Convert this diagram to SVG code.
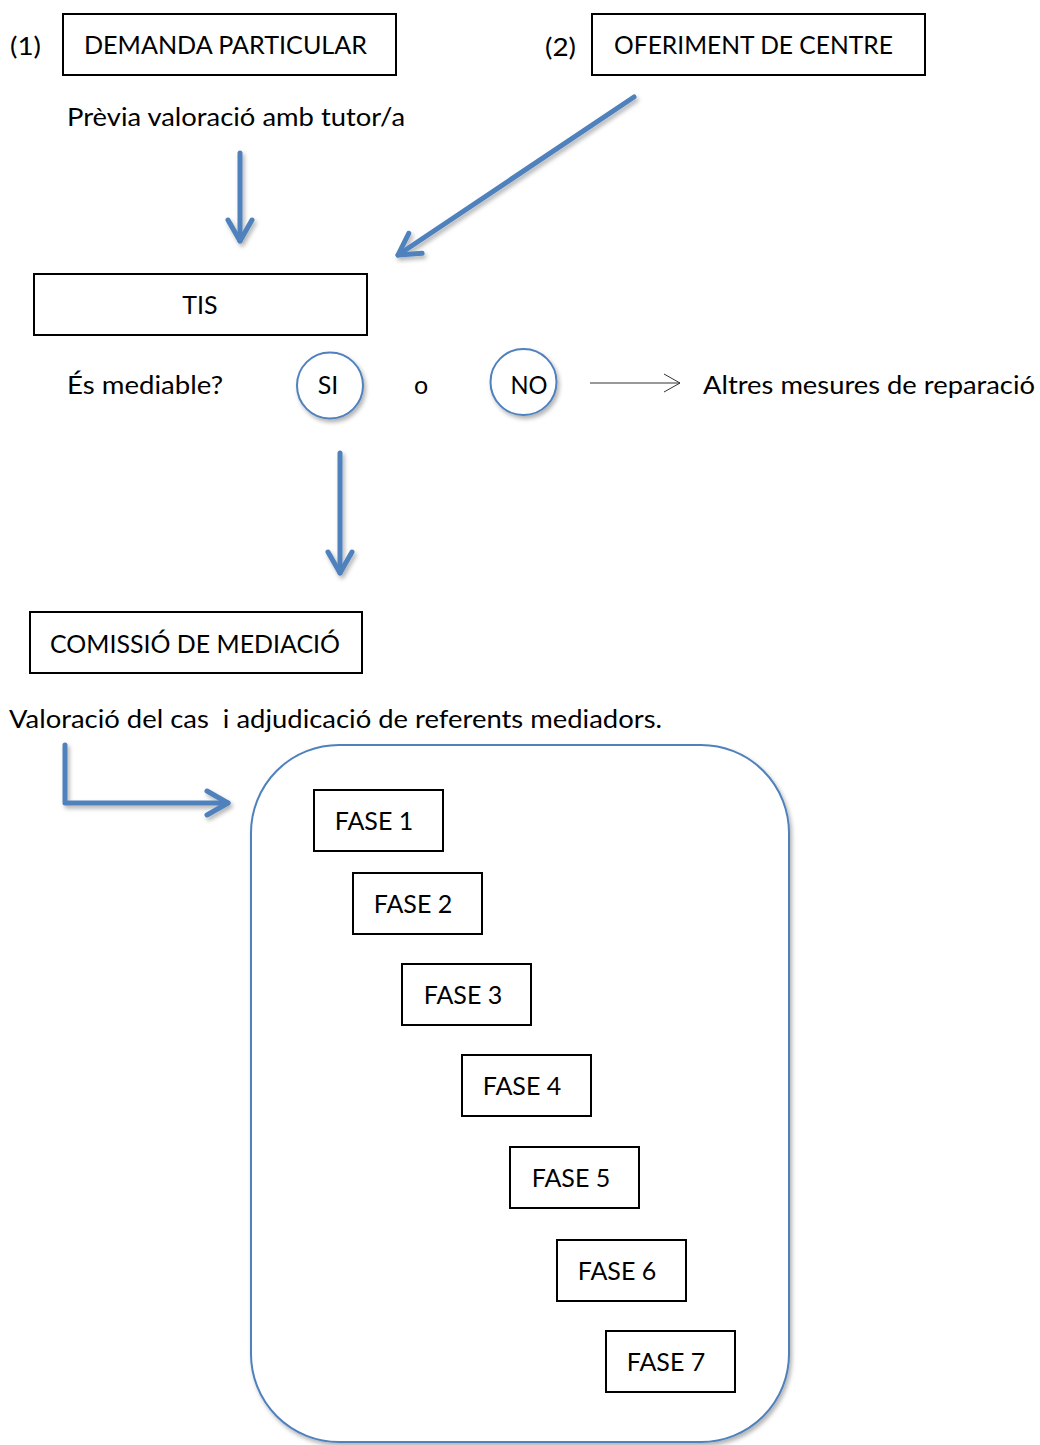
<svg xmlns="http://www.w3.org/2000/svg" width="1040" height="1445" viewBox="0 0 1040 1445">
<style>
text{font-family:Lato,"Open Sans","Noto Sans",sans-serif;font-size:25px;fill:#000}
.box{fill:#fff;stroke:#000;stroke-width:2}
.c{text-anchor:middle}
.circ{fill:#fff;stroke:#4F81BD;stroke-width:2}
.arr{fill:none;stroke:#4F81BD;stroke-width:5;stroke-linecap:round;stroke-linejoin:round}
.thin{fill:none;stroke:#333;stroke-width:1}
</style>
<defs>
<filter id="sh" x="-20%" y="-20%" width="140%" height="140%">
<feDropShadow dx="2" dy="3" stdDeviation="2" flood-color="#000" flood-opacity="0.3"/>
</filter>
<marker id="head" markerUnits="userSpaceOnUse" markerWidth="40" markerHeight="40" refX="21" refY="15" orient="auto" overflow="visible">
<path d="M0,3 L21,15 L0,27" fill="none" stroke="#4F81BD" stroke-width="5" stroke-linecap="round" stroke-linejoin="round"/>
</marker>
<marker id="thinhead" markerUnits="userSpaceOnUse" markerWidth="20" markerHeight="20" refX="16" refY="10" orient="auto" overflow="visible">
<path d="M0,1 L16,10 L0,19" fill="none" stroke="#333" stroke-width="1"/>
</marker>
</defs>
<rect width="1040" height="1445" fill="#fff"/>

<g id="container">
<rect x="251" y="745" width="538" height="697" rx="88" ry="88" fill="#fff" stroke="#4F81BD" stroke-width="2" filter="url(#sh)"/>
</g>

<g id="label1"><text x="10" y="55" textLength="31" lengthAdjust="spacingAndGlyphs">(1)</text></g>
<g id="demanda">
<rect class="box" x="63" y="14" width="333" height="61"/>
<text x="84" y="54" textLength="283" lengthAdjust="spacingAndGlyphs">DEMANDA PARTICULAR</text>
</g>
<g id="label2"><text x="545" y="56" textLength="31" lengthAdjust="spacingAndGlyphs">(2)</text></g>
<g id="oferiment">
<rect class="box" x="592" y="14" width="333" height="61"/>
<text x="614" y="54" textLength="279" lengthAdjust="spacingAndGlyphs">OFERIMENT DE CENTRE</text>
</g>
<g id="previa"><text x="67" y="126" textLength="338" lengthAdjust="spacingAndGlyphs">Prèvia valoració amb tutor/a</text></g>

<g id="tis">
<rect class="box" x="34" y="274" width="333" height="61"/>
<text x="200" y="314" class="c">TIS</text>
</g>
<g id="esmediable"><text x="67" y="394" textLength="156" lengthAdjust="spacingAndGlyphs">És mediable?</text></g>
<g id="si">
<circle class="circ" cx="330" cy="385.5" r="33" filter="url(#sh)"/>
<text x="328" y="394" class="c">SI</text>
</g>
<g id="o"><text x="421" y="394" class="c">o</text></g>
<g id="no">
<circle class="circ" cx="523.5" cy="382" r="33" filter="url(#sh)"/>
<text x="529" y="394" class="c" textLength="37" lengthAdjust="spacingAndGlyphs">NO</text>
</g>
<g id="altres"><text x="703" y="394" textLength="332" lengthAdjust="spacingAndGlyphs">Altres mesures de reparació</text></g>

<g id="comissio">
<rect class="box" x="30" y="612" width="332" height="61"/>
<text x="50" y="653" textLength="290" lengthAdjust="spacingAndGlyphs">COMISSIÓ DE MEDIACIÓ</text>
</g>
<g id="valoracio"><text x="9" y="728" textLength="653" lengthAdjust="spacingAndGlyphs" xml:space="preserve">Valoració del cas  i adjudicació de referents mediadors.</text></g>

<g id="fase1"><rect class="box" x="314" y="790" width="129" height="61"/><text x="374" y="830" class="c">FASE 1</text></g>
<g id="fase2"><rect class="box" x="353" y="873" width="129" height="61"/><text x="413" y="913" class="c">FASE 2</text></g>
<g id="fase3"><rect class="box" x="402" y="964" width="129" height="61"/><text x="463" y="1004" class="c">FASE 3</text></g>
<g id="fase4"><rect class="box" x="462" y="1055" width="129" height="61"/><text x="522" y="1095" class="c">FASE 4</text></g>
<g id="fase5"><rect class="box" x="510" y="1147" width="129" height="61"/><text x="571" y="1187" class="c">FASE 5</text></g>
<g id="fase6"><rect class="box" x="557" y="1240" width="129" height="61"/><text x="617" y="1280" class="c">FASE 6</text></g>
<g id="fase7"><rect class="box" x="606" y="1331" width="129" height="61"/><text x="666" y="1371" class="c">FASE 7</text></g>

<g id="connectors">
<g filter="url(#sh)">
<path class="arr" d="M240,153 L240,241" marker-end="url(#head)"/>
<path class="arr" d="M634,97 L398,255" marker-end="url(#head)"/>
<path class="arr" d="M340,453 L340,573" marker-end="url(#head)"/>
<path class="arr" d="M65,745 L65,803 L228,803" marker-end="url(#head)"/>
</g>
<path class="thin" d="M590,383 L680,383" marker-end="url(#thinhead)"/>
</g>
</svg>
